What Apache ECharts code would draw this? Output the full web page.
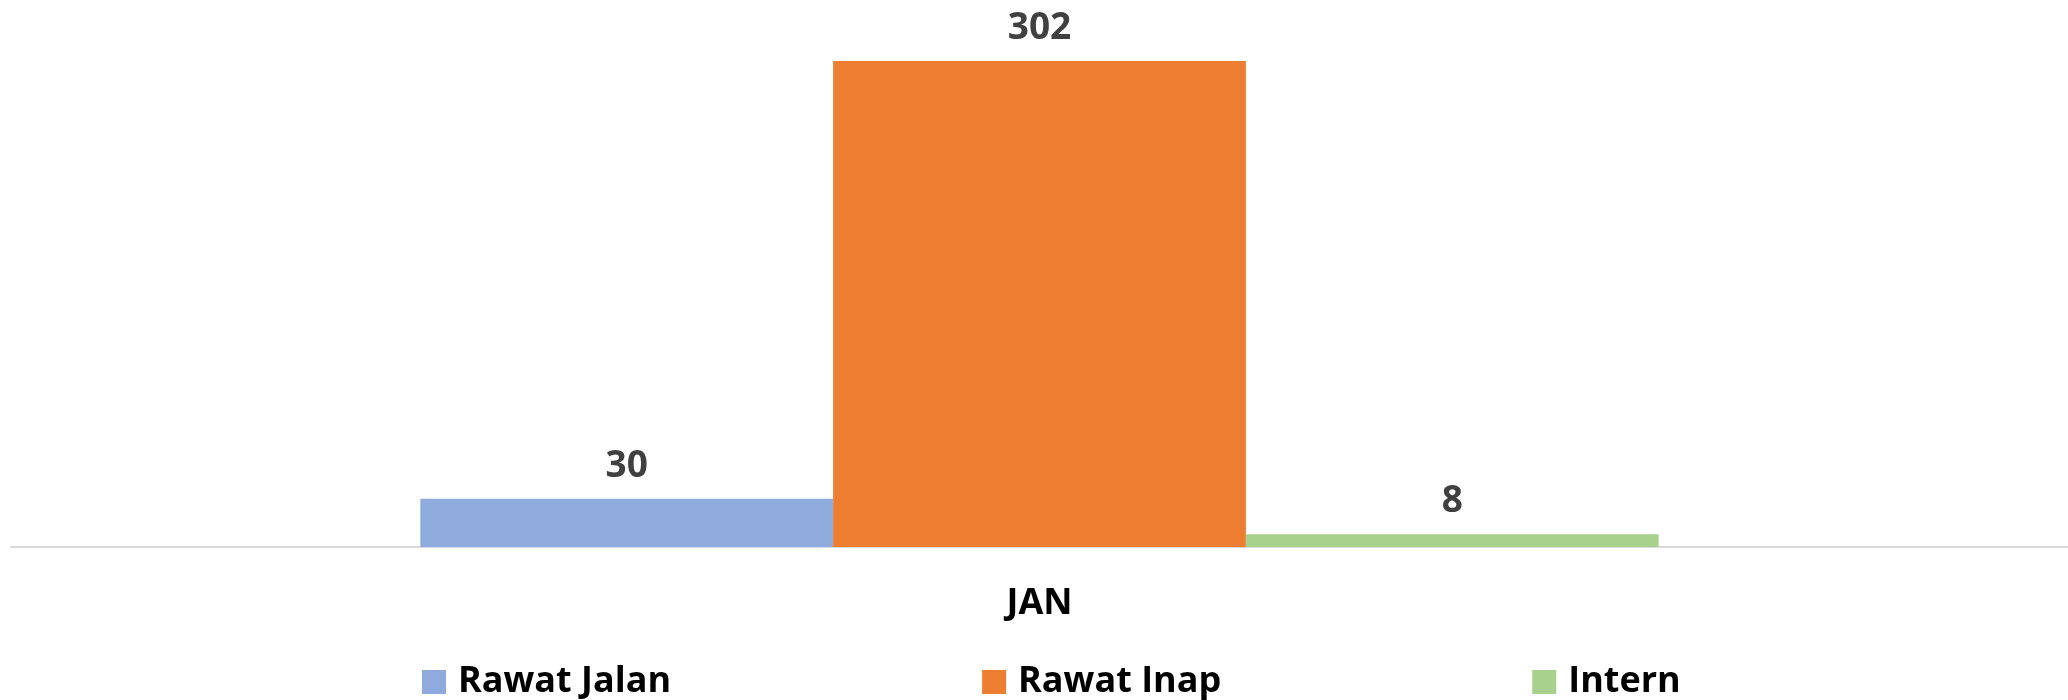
<!DOCTYPE html>
<html>
<head>
<meta charset="utf-8">
<script src="https://cdn.jsdelivr.net/npm/echarts@6/dist/echarts.min.js"></script>
<style>
    html, body { margin: 0; padding: 0; background: #fff; }
    #chart { width: 2068px; height: 700px; }
</style>
</head>
<body>
<div id="chart"></div>
<script>
// data
var categories = ['JAN'];
var seriesNames = ['Rawat Jalan', 'Rawat Inap', 'Intern'];
var rawatJalan = [30];
var rawatInap = [302];
var intern = [8];

var colors = ['#8FAADC', '#ED7D31', '#A9D18E'];
var fontFamily = '"Open Sans", "Noto Sans", sans-serif';

var myChart = echarts.init(document.getElementById('chart'));

function barSeries(name, data, color) {
    return {
        name: name,
        type: 'bar',
        data: data,
        barGap: 0,
        barCategoryGap: '39.8%',
        itemStyle: { color: color },
        label: {
            show: true,
            position: 'top',
            distance: 14,
            color: '#404040',
            fontSize: 37,
            fontWeight: 'bold',
            fontFamily: fontFamily
        }
    };
}

var options = {
    animation: false,
    grid: {
        top: 61,
        bottom: 153,
        left: 11,
        right: 0
    },
    legend: {
        data: seriesNames,
        left: 422,
        top: 664,
        padding: 0,
        itemWidth: 24,
        itemHeight: 24,
        itemGap: 311,
        icon: 'rect',
        textStyle: {
            color: '#000',
            fontSize: 36,
            lineHeight: 24,
            padding: [0, 0, 0, 7],
            fontWeight: 'bold',
            fontFamily: fontFamily
        }
    },
    xAxis: {
        type: 'category',
        data: categories,
        axisLine: {
            show: true,
            lineStyle: { color: '#D9D9D9', width: 2 }
        },
        axisTick: { show: false },
        axisLabel: {
            color: '#000',
            fontSize: 36,
            fontWeight: 'bold',
            fontFamily: fontFamily,
            margin: 39
        }
    },
    yAxis: {
        type: 'value',
        min: 0,
        max: 302,
        show: false,
        splitLine: { show: false }
    },
    series: [
        barSeries(seriesNames[0], rawatJalan, colors[0]),
        barSeries(seriesNames[1], rawatInap, colors[1]),
        barSeries(seriesNames[2], intern, colors[2])
    ]
};

myChart.setOption(options);
</script>
</body>
</html>
